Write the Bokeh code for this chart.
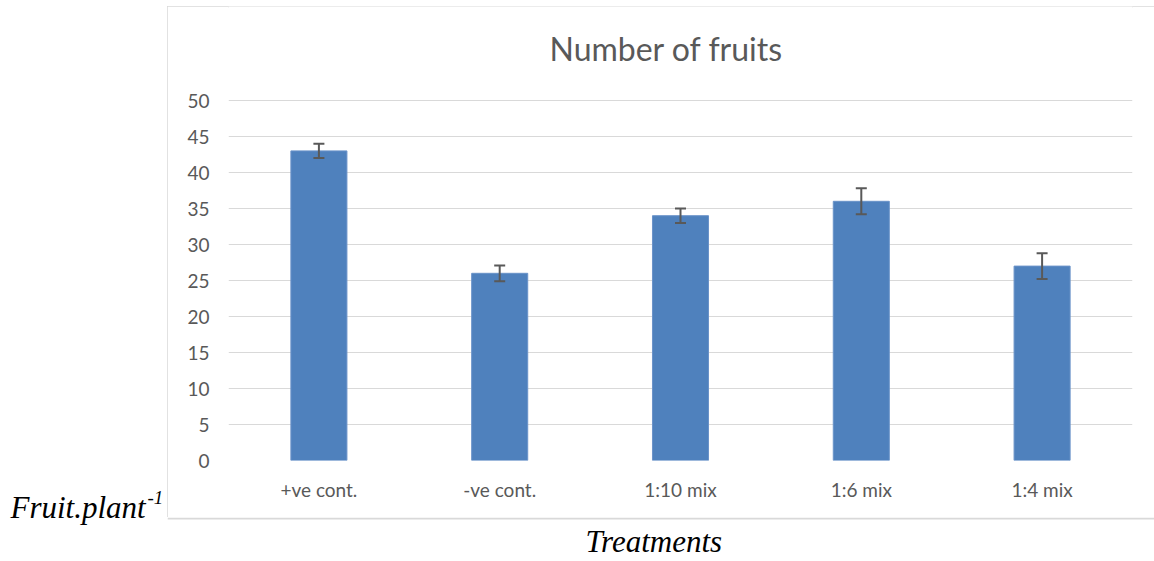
from bokeh.plotting import figure
from bokeh.models import (ColumnDataSource, Range1d, FactorRange, FixedTicker, Whisker,
                          TeeHead, Label, Spacer)
from bokeh.layouts import row, column
from bokeh.embed import file_html
from bokeh.resources import INLINE

treatments = ["+ve cont.", "-ve cont.", "1:10 mix", "1:6 mix", "1:4 mix"]
fruits = [43, 26, 34, 36, 27]
errors = [1.0, 1.1, 1.0, 1.8, 1.8]
y_ticks = [0, 5, 10, 15, 20, 25, 30, 35, 40, 45, 50]

title_text = "Number of fruits"
y_title = "Fruit.plant"
y_title_sup = "-1"
x_title = "Treatments"

GRAY = "#595959"
BORDER = "#d9d9d9"

src = ColumnDataSource(dict(
    x=treatments, top=fruits,
    upper=[v + e for v, e in zip(fruits, errors)],
    lower=[v - e for v, e in zip(fruits, errors)],
))

# ---- main chart (the bordered box) ----
# frame reaches the top of the box so the chart title can sit inside it;
# gridlines/ticks stop at 50 (fixed ticker)
FRAME_H = 454
y_top = max(y_ticks) * FRAME_H / 360.0

p = figure(title=None, x_range=FactorRange(*treatments, range_padding=0),
           y_range=Range1d(0, y_top),
           width=987, height=511, output_backend="svg", toolbar_location=None,
           min_border_left=61, min_border_right=22, min_border_top=0,
           min_border_bottom=511 - FRAME_H, frame_align=False,
           styles={"outline": "2px solid " + BORDER, "outline-offset": "-2px"})
p.outline_line_color = None
p.background_fill_color = "white"
p.border_fill_color = "white"

p.vbar(x="x", top="top", width=0.31, source=src, fill_color="#4f81bd",
       line_color="#6a93c9", line_width=1)

w = Whisker(base="x", upper="upper", lower="lower", source=src, dimension="height",
            line_color=GRAY, line_width=2, level="overlay",
            upper_head=TeeHead(size=11, line_color=GRAY, line_width=2),
            lower_head=TeeHead(size=11, line_color=GRAY, line_width=2))
p.add_layout(w)

p.add_layout(Label(x=321, y=412, x_units="screen", y_units="screen", text=title_text,
                   text_align="left", text_baseline="alphabetic", text_font="Lato",
                   text_font_size="32px", text_color=GRAY))

p.xgrid.grid_line_color = None
p.ygrid.grid_line_color = BORDER
p.ygrid.grid_line_width = 1
p.yaxis.ticker = FixedTicker(ticks=y_ticks)

for ax in (p.xaxis[0], p.yaxis[0]):
    ax.axis_line_color = None
    ax.major_tick_line_color = None
    ax.minor_tick_line_color = None
    ax.major_label_text_color = GRAY
    ax.major_label_text_font = "Lato"
    ax.major_label_text_font_size = "19px"
p.xaxis.major_label_standoff = 11
p.yaxis.major_label_standoff = 13


def blank(wd, ht):
    f = figure(title=None, width=wd, height=ht, x_range=Range1d(0, wd), y_range=Range1d(0, ht),
               x_axis_type=None, y_axis_type=None, output_backend="svg",
               toolbar_location=None, min_border=0, frame_align=False)
    f.outline_line_color = None
    f.grid.visible = False
    f.border_fill_color = "white"
    f.background_fill_color = "white"
    return f


# ---- left strip with the y title ----
left = blank(167, 561)
left.add_layout(Label(x=10, y=54, text=y_title, text_align="left",
                      text_baseline="alphabetic", text_font="Liberation Serif",
                      text_font_style="italic", text_font_size="31px", text_color="black"))
left.add_layout(Label(x=147, y=64, text=y_title_sup, text_align="left",
                      text_baseline="alphabetic", text_font="Liberation Serif",
                      text_font_style="italic", text_font_size="19px", text_color="black"))

# ---- bottom strip with the x title (and the lower edge of the chart box) ----
bottom = blank(987, 44)
bottom.segment(x0=[0], y0=[43], x1=[987], y1=[43], line_color=BORDER, line_width=2)
bottom.add_layout(Label(x=418, y=20, text=x_title, text_align="left",
                        text_baseline="alphabetic", text_font="Liberation Serif",
                        text_font_style="italic", text_font_size="31px", text_color="black"))

layout = row(left, column(Spacer(width=987, height=6), p, bottom))

open("out.html", "w").write(file_html(layout, INLINE))
